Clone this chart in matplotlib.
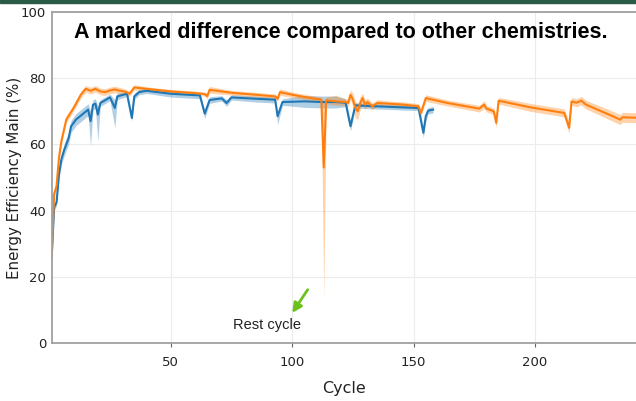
import matplotlib
matplotlib.use("Agg")
import numpy as np
import matplotlib.pyplot as plt
from matplotlib.patches import Rectangle

# ---- data ----
# blue series: cycle, mean, band below, band above
blue_cycle = [1, 2, 3, 4, 5, 6, 8, 9, 11, 14, 16, 17, 18, 19, 20, 21, 25, 27, 28, 32,
              34, 35, 37, 40, 50, 62, 64, 66, 71, 73, 75, 85, 93, 94, 96, 105, 112, 118,
              122, 124, 126, 135, 145, 152, 154, 155, 156, 158]
blue_mean = [26, 41, 42.5, 51, 55.5, 58, 62, 65.5, 67.5, 69.3, 70.5, 67, 72, 72.3, 69, 72.5,
             74.2, 71, 74.5, 75.3, 68, 74.5, 75.8, 76.2, 75.3, 74.8, 69.3, 73.4, 73.9, 72.5,
             74.2, 73.8, 73.5, 68.5, 72.8, 73.0, 72.8, 72.8, 72.6, 65.5, 71.8, 71.5, 71.2,
             71.0, 63.5, 68.5, 70.2, 70.5]
blue_dn = [0.5, 1, 1, 1.5, 1.5, 1.8, 1.8, 1.8, 1.8, 1.8, 1.8, 7.5, 1.5, 1.5, 8, 1, 1, 6, 1,
           0.8, 1, 1, 0.8, 0.8, 1, 1, 1.5, 1, 0.8, 1, 0.8, 1, 1, 2.5, 1, 1.8, 1.8, 1.8, 1.2,
           1.5, 0.8, 0.8, 0.8, 0.8, 1.5, 1.5, 1, 1]
blue_up = [0.5, 1, 1, 1.5, 1.5, 1.8, 1.8, 1.8, 1.8, 1.8, 1.8, 3, 1.5, 1.5, 2.5, 1, 1, 2.5, 1,
           0.8, 1, 1, 0.8, 0.8, 0.8, 0.8, 1, 1, 0.8, 1, 0.8, 0.8, 0.8, 1, 1, 1.8, 1.8, 1.8,
           1.2, 1.5, 0.8, 0.8, 0.8, 0.8, 1.5, 1.5, 1, 1]

# orange series
orange_cycle = [1, 2, 3, 4, 5, 7, 10, 13, 15, 17, 19, 21, 23, 25, 27, 29, 31, 33, 35, 40,
                50, 60, 64, 65, 66, 75, 85, 93, 94, 95, 100, 106, 112, 113, 114, 118, 122,
                123, 124, 125, 126, 127, 128, 129, 130, 131, 133, 135, 140, 146, 152, 153,
                155, 164, 177, 179, 180, 183, 184, 185, 198, 212, 214, 215, 217, 219, 221,
                232, 235, 236, 244]
orange_mean = [26, 45, 47.5, 56, 61, 67.5, 71, 75, 76.8, 76.2, 76.8, 76.0, 75.8, 76.3, 76.6,
               76.2, 76.0, 75.3, 77.2, 76.8, 76.0, 75.5, 75.2, 74.6, 76.5, 75.6, 75.0, 74.5,
               73.8, 75.8, 75.0, 74.2, 73.5, 53, 73.3, 73.0, 72.8, 72.5, 75.0, 73.5, 71.0,
               70.0, 72.5, 74.0, 72.0, 72.8, 71.5, 72.5, 72.3, 72.0, 71.5, 69.5, 74.0, 72.5,
               70.8, 72.0, 70.8, 70.0, 66.5, 73.2, 71.2, 69.5, 65.0, 73.0, 72.6, 73.2, 72.0,
               68.5, 67.5, 68.2, 68.0]
orange_dn = [0.5, 1, 1, 1, 1, 1, 1, 1, 1, 1, 1, 1, 1, 1, 1, 1, 0.8, 0.8, 0.8, 0.6, 0.6, 0.6,
             0.6, 0.8, 1, 0.7, 0.7, 0.7, 0.8, 1, 0.8, 0.8, 0.8, 39.5, 1, 1.2, 1, 1, 1.5, 2, 3,
             2.5, 2, 1.5, 1.5, 1.2, 1, 1, 0.8, 0.8, 0.8, 1, 1, 0.9, 1, 1.2, 1, 1, 1.5, 1, 1.2,
             1.2, 1.8, 1.2, 1.2, 1.3, 1.3, 1.5, 1.5, 1.5, 1.5]
orange_up = [0.5, 1, 1, 1, 1, 1, 1, 1, 1, 1, 1, 1, 1, 1, 1, 1, 0.8, 0.8, 0.8, 0.6, 0.6, 0.6,
             0.6, 0.8, 1, 0.7, 0.7, 0.7, 0.8, 1, 0.8, 0.8, 0.8, 20, 1, 1.8, 1, 1, 1.5, 2, 2,
             2, 2, 1.5, 1.5, 1.2, 1, 1, 0.8, 0.8, 0.8, 1, 1, 0.9, 1, 1.2, 1, 1, 1.5, 1, 1.2,
             1.2, 1.8, 1.2, 1.2, 1.3, 1.3, 1.5, 1.5, 1.5, 1.5]

y_ticks = [0, 20, 40, 60, 80, 100]
x_ticks = [50, 100, 150, 200]

BLUE = "#1f77b4"
ORANGE = "#ff7f0e"

# ---- figure ----
fig = plt.figure(figsize=(6.36, 4.01), dpi=100)
ax = fig.add_axes([51.7 / 636, 1 - 343 / 401, 1 - 51.7 / 636 + 0.001, 331 / 401])

fig.patches.append(Rectangle((0, 1 - 3 / 401), 1, 3 / 401, transform=fig.transFigure,
                             color="#2b5b47", zorder=10))

for cyc, mean, dn, up, col in [(blue_cycle, blue_mean, blue_dn, blue_up, BLUE),
                               (orange_cycle, orange_mean, orange_dn, orange_up, ORANGE)]:
    cyc = np.array(cyc)
    mean = np.array(mean)
    ax.fill_between(cyc, mean - np.array(dn), mean + np.array(up), color=col, alpha=0.35,
                    linewidth=0)
    ax.plot(cyc, mean, color=col, linewidth=1.5)

ax.set_xlim(1, 241.8)
ax.set_ylim(0, 100)
ax.set_xticks(x_ticks)
ax.set_yticks(y_ticks)
ax.grid(True, color="#ececec", linewidth=0.8)
ax.set_axisbelow(True)
for s in ["left", "bottom", "top", "right"]:
    ax.spines[s].set_color("#a0a0a0")
    ax.spines[s].set_linewidth(1.3)
ax.tick_params(axis="y", length=0, pad=4, labelsize=9.5, colors="#222222")
ax.tick_params(axis="x", length=3, pad=6, labelsize=9.5, colors="#222222", color="#666666")

ax.text(0.495, 0.937, "A marked difference compared to other chemistries.", transform=ax.transAxes,
        ha="center", va="center", fontsize=15.5, fontweight="bold",
        family=["Liberation Sans", "DejaVu Sans"])

# rest cycle annotation
ax.annotate("", xy=(99.4, 8.4), xytext=(107, 16.8),
            arrowprops=dict(arrowstyle="-|>", color="#6cc11c", lw=2, mutation_scale=14))
ax.text(89.5, 5.4, "Rest cycle", ha="center", va="center", fontsize=10.5,
        family=["Liberation Sans", "DejaVu Sans"], color="#222222")

fig.text(15 / 636, 1 - 178 / 401, "Energy Efficiency Main (%)", rotation=90, ha="center",
         va="center", fontsize=10.8, color="#222222")
fig.text(344 / 636, 1 - 388 / 401, "Cycle", ha="center", va="center", fontsize=11.5,
         color="#222222")

fig.savefig("out.png", dpi=100)
